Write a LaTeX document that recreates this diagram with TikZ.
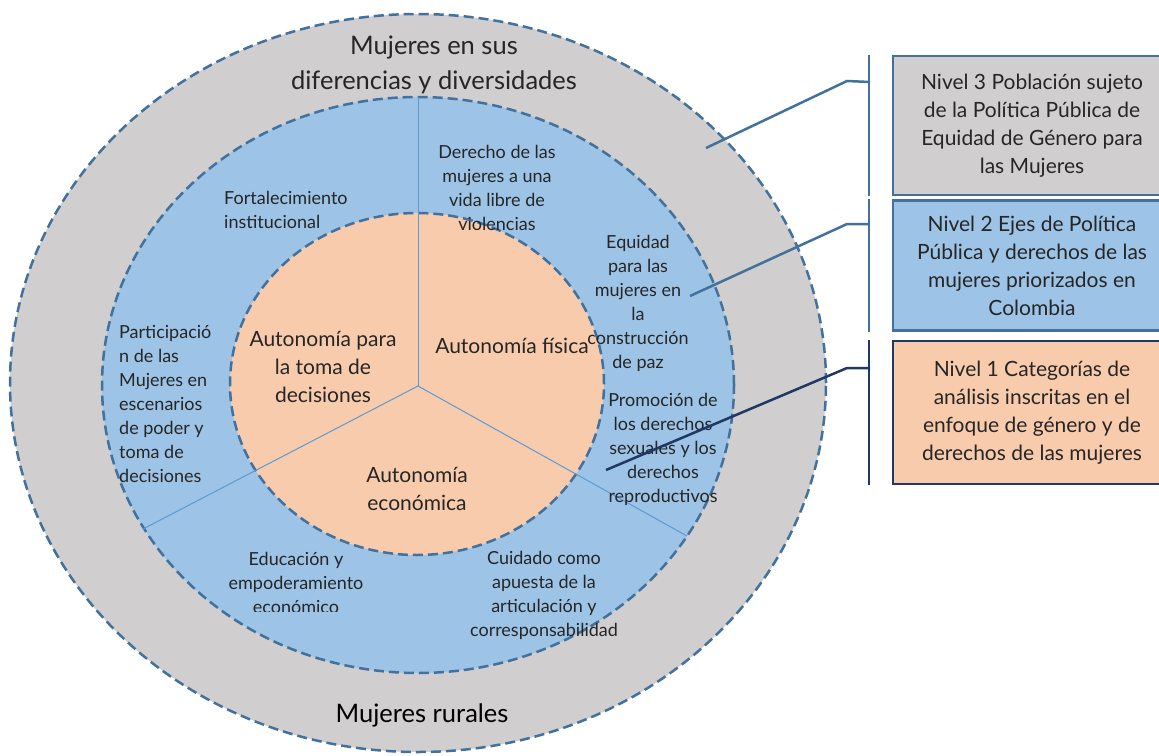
\documentclass[tikz,border=0pt]{standalone}
\usepackage{fontspec}
\setmainfont{Lato}
\usepackage{tikz}
\usetikzlibrary{positioning}

\definecolor{ringgray}{HTML}{D0CECE}
\definecolor{ringblue}{HTML}{9DC3E6}
\definecolor{ringorange}{HTML}{F8CBAD}
\definecolor{edgeblue}{HTML}{41719C}
\definecolor{spokeblue}{HTML}{5B9BD5}
\definecolor{navy}{HTML}{203864}
\definecolor{txtgray}{HTML}{262626}

\begin{document}
\begin{tikzpicture}[x=1pt, y=-1pt]
		\tikzstyle{ring}=[draw=edgeblue, line width=2.5pt, dash pattern=on 10pt off 5pt]
		\tikzstyle{spoke}=[draw=spokeblue, line width=1pt]
		\tikzstyle{small}=[inner sep=0pt, align=center, text=txtgray, font=\fontsize{18}{24}\selectfont]
		\tikzstyle{mid}=[inner sep=0pt, align=center, text=txtgray, font=\fontsize{21}{28}\selectfont]
		\tikzstyle{large}=[inner sep=0pt, align=center, text=txtgray, font=\fontsize{25.5}{35}\selectfont]
		\tikzstyle{level}=[rectangle, line width=2.5pt, minimum width=278pt, align=center, text=txtgray, font=\fontsize{21}{28}\selectfont]
		\tikzstyle{lead}=[line width=2.5pt, draw=edgeblue]
		\useasboundingbox (0,0) rectangle (1159,755);
		% rings
		\path[ring, fill=ringgray] (418,383) ellipse [x radius=408pt, y radius=369pt];
		\path[ring, fill=ringblue] (418,385) ellipse [x radius=316pt, y radius=288pt];
		\path[ring, fill=ringorange] (417,384) ellipse [x radius=187pt, y radius=171pt];
		\coordinate (hub) at (418,386);
		\coordinate (s1) at (418,97);
		\coordinate (s2) at (143,529);
		\coordinate (s3) at (687,536);
		\path (hub) edge [spoke] (s1)
			(hub) edge [spoke] (s2)
			(hub) edge [spoke] (s3);
		% outer ring
		\node[large] (diversas) at (434,64.5) {Mujeres en sus\\diferencias y diversidades};
		\node[large, text=black] (rurales) at (422,715) {Mujeres rurales};
		% middle ring
		\node[small, anchor=west, align=left] (fortal) at (224,210) {Fortalecimiento\\institucional};
		\node[small] (violencia) at (497,188) {Derecho de las\\mujeres a una\\vida libre de\\violencias};
		\node[small] (paz) at (638,303) {Equidad\\para las\\mujeres en\\la\\construcci\'on\\de paz};
		\node[small] (sexual) at (663,449) {Promoci\'on de\\los derechos\\sexuales y los\\derechos\\reproductivos};
		\node[small] (cuidado) at (544,595) {Cuidado como\\apuesta de la\\articulaci\'on y\\corresponsabilidad};
		\begin{scope}
			\clip (150,540) rectangle (450,611);
			\node[small] (educa) at (296,583) {Educaci\'on y\\empoderamiento\\econ\'omico};
		\end{scope}
		\node[small, anchor=west, align=left] (particip) at (119,403.5) {Participaci\'o\\n de las\\Mujeres en\\escenarios\\de poder y\\toma de\\decisiones};
		% inner ring
		\node[mid] (decision) at (323,367) {Autonom\'ia para\\la toma de\\decisiones};
		\node[mid] (fisica) at (512,346) {Autonom\'ia f\'isica};
		\node[mid] (econ) at (417,488.5) {Autonom\'ia\\econ\'omica};
		% levels
		\node[level, fill=ringgray, draw=edgeblue, minimum height=139pt] (lvl3) at (1032,125.5) {Nivel 3 Poblaci\'on sujeto\\de la Pol\'itica P\'ublica de\\Equidad de G\'enero para\\las Mujeres};
		\node[level, fill=ringblue, draw=edgeblue, minimum height=130pt, below=3pt of lvl3] (lvl2) {Nivel 2 Ejes de Pol\'itica\\P\'ublica y derechos de las\\mujeres priorizados en\\Colombia};
		\node[level, fill=ringorange, draw=navy, minimum height=143pt, below=8pt of lvl2] (lvl1) {Nivel 1 Categor\'ias de\\an\'alisis inscritas en el\\enfoque de g\'enero y de\\derechos de las mujeres};
		% brackets
		\draw[lead] ([xshift=-23pt]lvl3.north west) -- ([xshift=-23pt]lvl3.south west);
		\draw[lead] ([xshift=-23pt]lvl2.north west) -- ([xshift=-23pt]lvl2.south west);
		\draw[lead, draw=navy] ([xshift=-23pt]lvl1.north west) -- ([xshift=-23pt]lvl1.south west);
		\coordinate (p3) at (706,148);
		\coordinate (p2) at (690,296);
		\coordinate (p1) at (606,470);
		\draw[lead] (p3) -- (847,81) -- (870,82);
		\draw[lead] (p2) -- (847,224) -- (870,224);
		\draw[lead, draw=navy] (p1) -- (847,368) -- (870,368);
		%\draw[lead] (lvl1.west) -- (p1);
	\end{tikzpicture}
\end{document}
